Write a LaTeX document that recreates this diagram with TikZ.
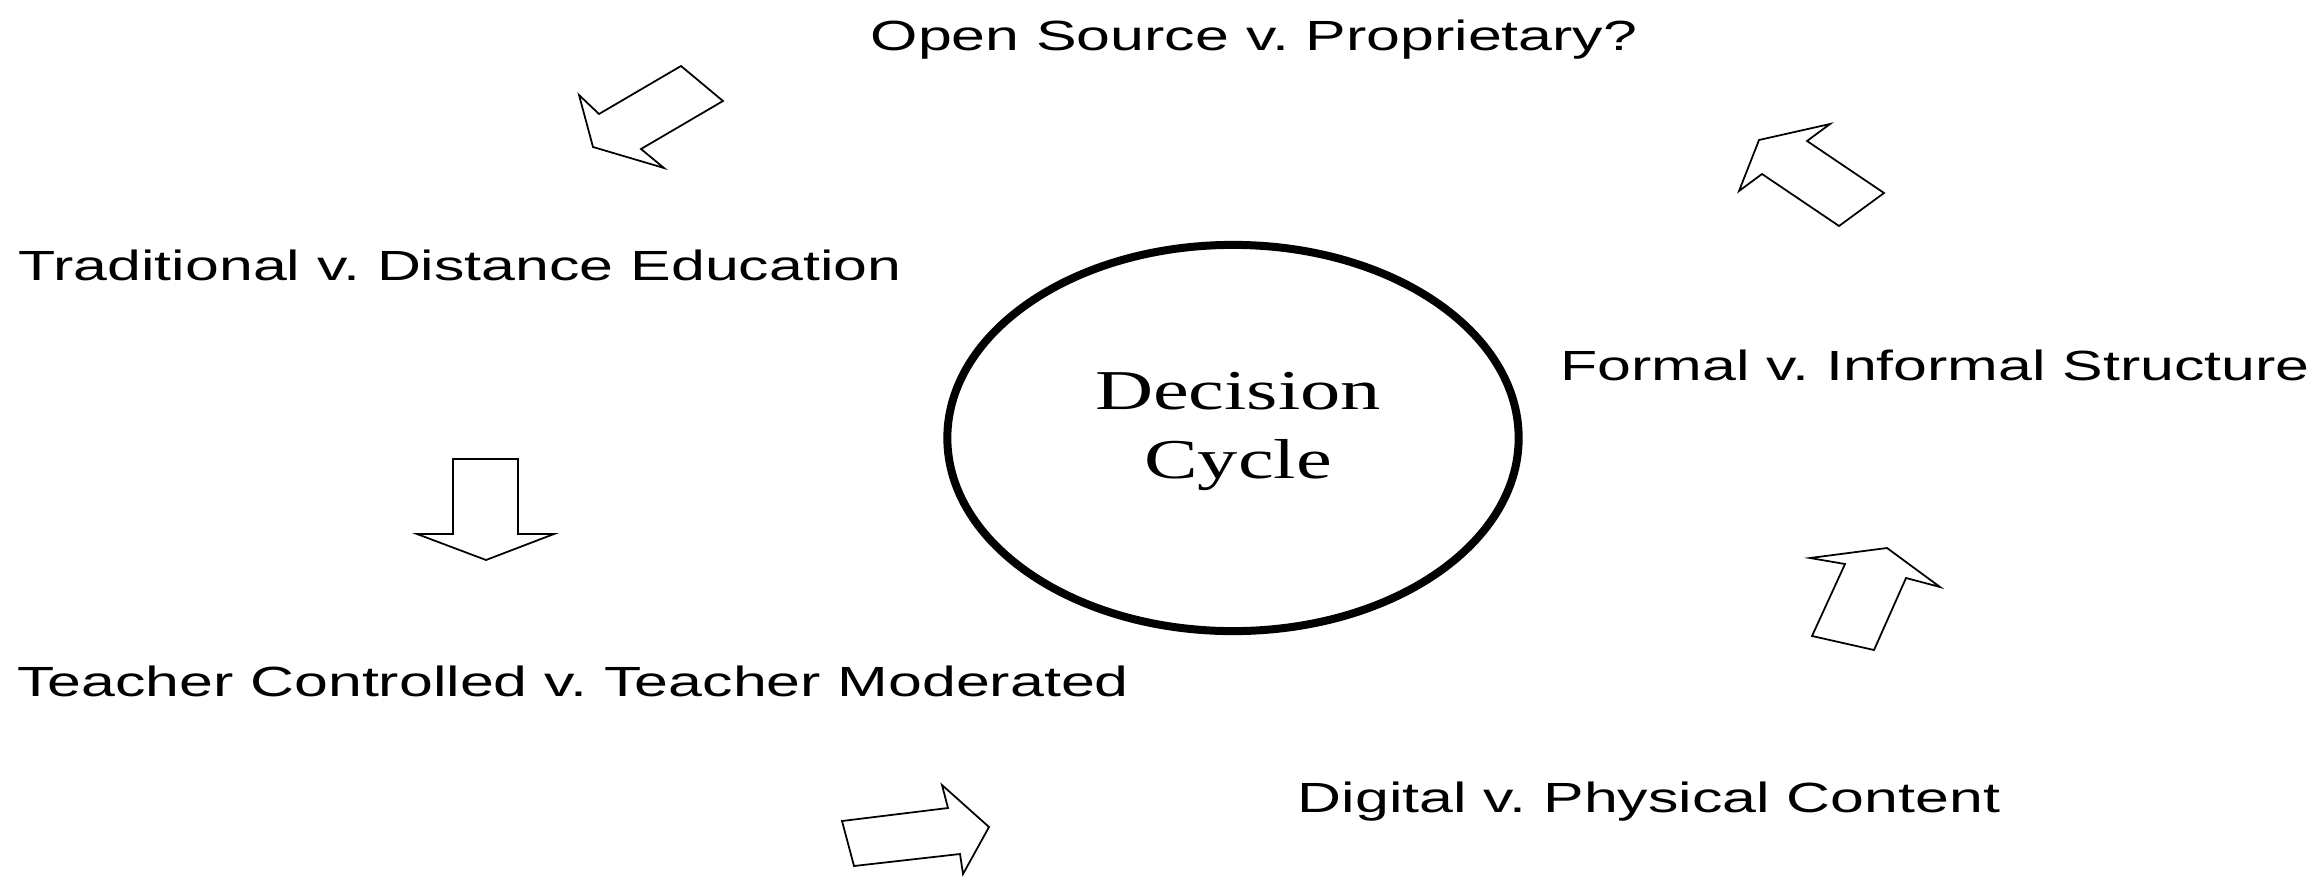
\documentclass[tikz,border=0pt]{standalone}
\usepackage{fontspec}
\usetikzlibrary{shapes.geometric}
\newfontfamily\labfont[FakeStretch=1.442]{Liberation Sans}
\newfontfamily\cyclefont[FakeStretch=1.43]{Liberation Serif}
\begin{document}
\frenchspacing
\begin{tikzpicture}[x=0.01cm,y=-0.01cm,
  lbl/.style={font=\labfont\fontsize{12pt}{14pt}\selectfont, inner sep=0pt, anchor=base},
  ctext/.style={font=\cyclefont\fontsize{16pt}{19pt}\selectfont, inner sep=0pt, anchor=base},
  blockarrow/.style={draw=black, line width=0.5pt, line join=miter, fill=white},
  cyc/.style={ellipse, draw=black, line width=0.08cm, inner sep=0pt}]
\useasboundingbox[fill=white] (0,0) rectangle (2316,876);

% centre
\node[cyc, minimum width=5.71cm, minimum height=3.86cm] (dc) at (1233,438) {};
\node[ctext] (dec) at (1238,409) {Decision};
\node[ctext] (cyc) at (1238,478) {Cycle};

% labels
\node[lbl] (os) at (1254,51) {Open Source v. Proprietary?};
\node[lbl] (td) at (460,280) {Traditional v. Distance Education};
\node[lbl] (fi) at (1935,380) {Formal v. Informal Structure};
\node[lbl] (tc) at (573,696) {Teacher Controlled v. Teacher Moderated};
\node[lbl] (dp) at (1649,812) {Digital v. Physical Content};

% block arrows
\draw[blockarrow] (681,66) -- (723,101) -- (641,149) -- (664,168) -- (593,147) -- (579,95) -- (599,114) -- cycle;
\draw[blockarrow] (1830,124) -- (1807,141) -- (1884,193) -- (1839,226) -- (1762,174) -- (1739,191) -- (1759,140) -- cycle;
\draw[blockarrow] (453,459) -- (518,459) -- (518,534) -- (554,534) -- (486,560) -- (417,534) -- (453,534) -- cycle;
\draw[blockarrow] (842,821) -- (948,808) -- (942,785) -- (989,827) -- (963,874) -- (960,854) -- (854,866) -- cycle;
\draw[blockarrow] (1810,558) -- (1887,548) -- (1940,587) -- (1906,578) -- (1874,650) -- (1812,636) -- (1845,564) -- cycle;
\end{tikzpicture}
\end{document}
